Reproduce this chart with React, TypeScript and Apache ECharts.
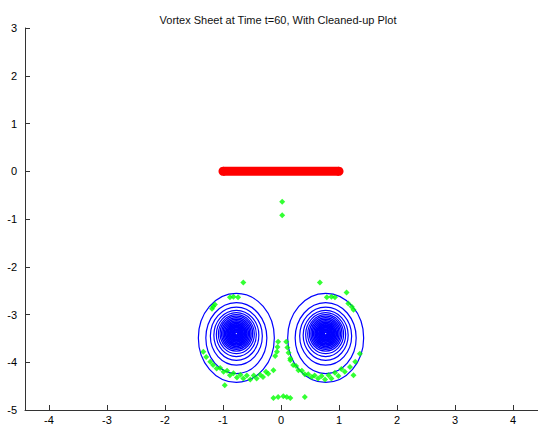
import React, { useEffect, useRef } from "react";
import * as echarts from "echarts";

const TITLE = "Vortex Sheet at Time t=60, With Cleaned-up Plot";
const X_TICKS = [-4, -3, -2, -1, 0, 1, 2, 3, 4];

// red vortex sheet segment (end points)
const SHEET = [
  [-1, 0],
  [1, 0],
];

// vortex centres
const VORTEX_CENTERS = [
  [-0.77, -3.4],
  [0.77, -3.4],
];

// ring half-widths, half-heights and vertical offsets (data units)
const RING_RX = [0.655, 0.526, 0.448, 0.388, 0.345, 0.31, 0.281, 0.255, 0.231, 0.207, 0.184, 0.162, 0.14, 0.117, 0.095, 0.072, 0.05, 0.028];
const RING_RY = [0.932, 0.743, 0.607, 0.524, 0.461, 0.408, 0.366, 0.331, 0.299, 0.268, 0.239, 0.209, 0.18, 0.151, 0.121, 0.092, 0.063, 0.036];
const RING_DY = [-0.09, -0.094, -0.052, -0.036, -0.021, -0.01, 0, 0, 0, 0, 0, 0, 0, 0, 0, 0, 0, 0];
const RING_W = [1.2, 1.2, 1.2, 1.2, 1.2, 1.2, 1.3, 1.4, 1.5, 1.6, 1.7, 1.8, 1.9, 2, 2, 2, 2, 2];

// green points
const GREEN_X = [
  0.02, 0.02,
  -0.65, 0.67, 1.13,
  -0.88, -0.82, -0.74, 0.79, 0.87, 0.93,
  -1.19, -1.17, -1.14, 1.16, 1.22, 1.25,
  -0.05, -0.06, -0.07, -0.1, 0.09, 0.11, 0.13, 0.16,
  -1.34, -1.29, -1.22, -1.17,
  -1.11, -0.99, -0.88, -0.76, -0.65, -0.53, -0.42, -0.31, -0.22, -0.13,
  -1.05, -0.93, -0.82, -0.7, -0.59, -0.47, -0.36, -0.26,
  -0.97,
  0.16, 0.21, 0.3, 0.41, 0.53, 0.64, 0.76, 0.87, 0.99, 1.1, 1.19, 1.28, 1.36,
  0.26, 0.36, 0.47, 0.58, 0.7, 0.82, 0.93, 1.04,
  1.25,
  -0.13, -0.05, 0.04, 0.1, 0.16, 0.41,
];
const GREEN_Y = [
  -0.64, -0.92,
  -2.33, -2.33, -2.54,
  -2.64, -2.63, -2.64, -2.64, -2.63, -2.64,
  -2.88, -2.83, -2.79, -2.77, -2.84, -2.9,
  -3.57, -3.68, -3.78, -3.87, -3.57, -3.69, -3.8, -3.92,
  -3.78, -3.89, -3.99, -4.06,
  -4.13, -4.2, -4.27, -4.32, -4.34, -4.36, -4.34, -4.31, -4.24, -4.17,
  -4.12, -4.18, -4.23, -4.26, -4.28, -4.28, -4.26, -4.2,
  -4.48,
  -3.96, -4.06, -4.17, -4.25, -4.31, -4.34, -4.36, -4.34, -4.29, -4.2, -4.1, -3.99, -3.82,
  -4.08, -4.18, -4.25, -4.28, -4.29, -4.27, -4.22, -4.14,
  -4.27,
  -4.75, -4.73, -4.71, -4.73, -4.75, -4.73,
];

const FONT = "'Liberation Sans', Arial, sans-serif";

export default function App() {
  const ref = useRef<HTMLDivElement>(null);
  useEffect(() => {
    if (!ref.current) return;
    const chart = echarts.init(ref.current, undefined, { renderer: "svg" });

    const ringData: number[][] = [];
    VORTEX_CENTERS.forEach((c) => {
      RING_RX.forEach((rx, i) => {
        ringData.push([c[0], c[1] + RING_DY[i], rx, RING_RY[i], RING_W[i]]);
      });
    });
    const greenData = GREEN_X.map((x, i) => [x, GREEN_Y[i]]);

    chart.setOption({
      animation: false,
      backgroundColor: "#ffffff",
      title: {
        text: TITLE,
        left: 273,
        textAlign: "center",
        top: 9,
        textStyle: { fontFamily: FONT, fontSize: 11, fontWeight: "normal", color: "#111" },
      },
      grid: { left: 25, right: 0, top: 28, bottom: 20, containLabel: false },
      xAxis: {
        type: "value",
        min: -4.414,
        max: 4.431,
        axisLine: { show: true, onZero: false, lineStyle: { color: "#333", width: 1 } },
        axisTick: { show: true, inside: true, length: 5, customValues: X_TICKS, lineStyle: { color: "#333" } },
        axisLabel: { customValues: X_TICKS, fontFamily: FONT, fontSize: 11, color: "#000", margin: 4 },
        splitLine: { show: false },
      },
      yAxis: {
        type: "value",
        min: -5,
        max: 3,
        interval: 1,
        axisLine: { show: true, onZero: false, lineStyle: { color: "#333", width: 1 } },
        axisTick: { show: true, inside: true, length: 5, lineStyle: { color: "#333" } },
        axisLabel: { fontFamily: FONT, fontSize: 11, color: "#000", margin: 8 },
        splitLine: { show: false },
      },
      series: [
        {
          type: "custom",
          data: ringData,
          z: 1,
          renderItem: (params: any, api: any) => {
            const c = api.coord([api.value(0), api.value(1)]);
            const s = api.size([api.value(2), api.value(3)]);
            return {
              type: "ellipse",
              shape: { cx: c[0], cy: c[1], rx: s[0], ry: s[1] },
              style: { fill: "none", stroke: "#0000ff", lineWidth: api.value(4) },
            };
          },
        },
        {
          type: "scatter",
          data: greenData,
          symbol: "diamond",
          symbolSize: 6,
          itemStyle: { color: "#00ff00" },
          z: 3,
        },
        {
          type: "line",
          data: SHEET,
          symbol: "circle",
          symbolSize: 9,
          showSymbol: true,
          itemStyle: { color: "#ff0000" },
          lineStyle: { color: "#ff0000", width: 9 },
          z: 4,
        },
      ],
    });
    return () => chart.dispose();
  }, []);
  return <div ref={ref} style={{ position: "fixed", left: 0, top: 0, width: 538, height: 430 }} />;
}
